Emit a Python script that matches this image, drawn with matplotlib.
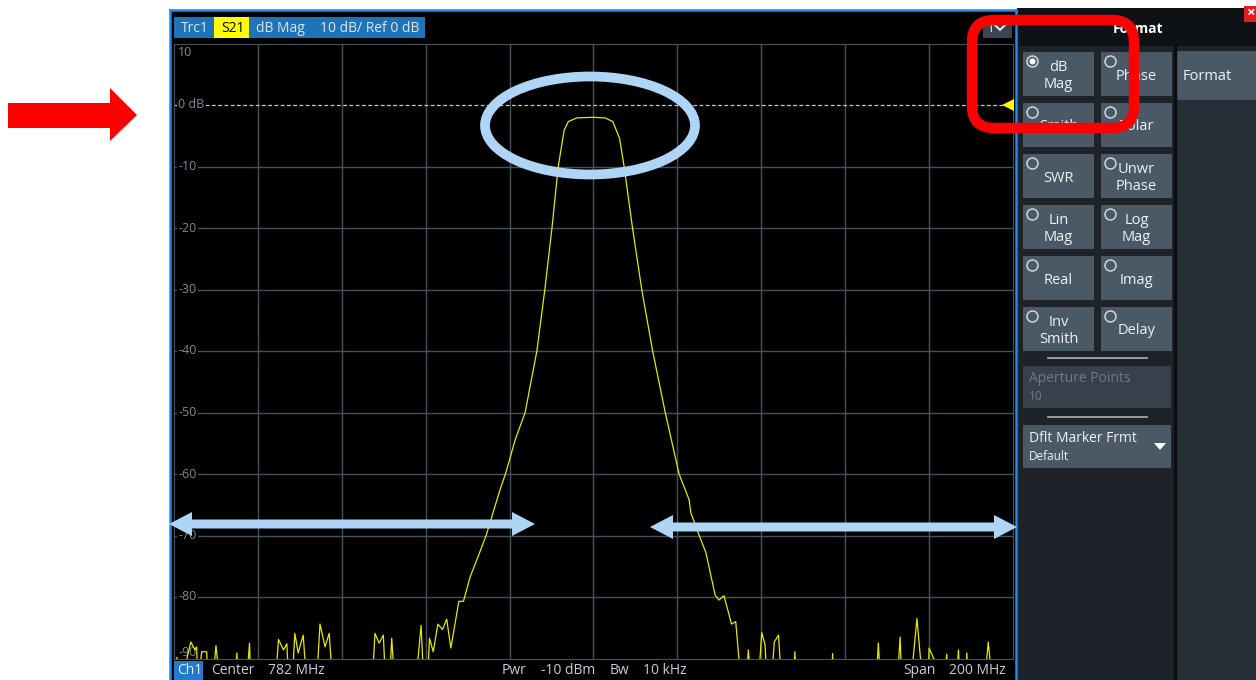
import matplotlib
matplotlib.use("Agg")
import matplotlib.pyplot as plt
from matplotlib.patches import Rectangle, Ellipse, Polygon, Circle, FancyBboxPatch
from matplotlib.transforms import blended_transform_factory

plt.rcParams['font.family'] = ['Open Sans', 'DejaVu Sans']

# Sweep settings
center_mhz = 782
span_mhz = 200
ref_db = 0
div_db = 10

# S21 trace (values below -90 dB are off screen)
noise_left_f = [682.0, 682.7, 683.4, 686.0, 687.0, 687.4, 687.7, 688.6, 689.8, 690.1,
                691.1, 692.0, 693.1, 696.3, 697.0, 697.3, 699.2, 700.0, 700.4, 706.1,
                706.9, 708.1, 708.9, 709.4, 710.1, 710.8, 711.6, 712.8, 713.7, 715.9,
                716.8, 718.0, 719.0, 719.9, 729.2, 729.9, 730.9, 731.9, 732.5, 733.3,
                733.9, 734.7, 739.5, 740.9, 741.6, 742.3, 742.9, 743.8, 744.9, 746.0,
                747.0, 748.0]
noise_left_db = [-95, -89.8, -95, -87.3, -88.6, -88.1, -95, -88.9, -88.9, -95,
                 -95, -87.9, -95, -95, -89.1, -95, -95, -87.5, -95, -95,
                 -86.9, -88.6, -87.6, -95, -95, -85.9, -89.1, -86.2, -95, -95,
                 -84.4, -88.1, -85.9, -95, -95, -85.9, -87.5, -86.2, -95, -95,
                 -86.7, -95, -95, -84.6, -95, -95, -86.7, -88.9, -84.4, -85.3,
                 -83.6, -88.3]

filter_f = [749.9, 751.0, 752.6, 754.5, 756.4, 759.7, 761.1, 763.3, 765.7, 768.5,
            770.4, 772.1, 773.6, 775.0, 776.0, 778.0, 782.0, 784.8, 786.6, 788.2,
            789.3, 791.3, 793.5, 796.1, 799.1, 802.4, 804.8, 805.2, 807.2, 808.8,
            811.0, 811.9, 813.1, 814.9, 815.9]
filter_db = [-80.7, -80.7, -76.7, -73.4, -70.0, -62.6, -59.8, -54.5, -50.0, -40.0,
             -30.0, -20.0, -10.0, -4.1, -2.7, -2.1, -2.0, -2.1, -2.7, -5.4,
             -10.0, -20.0, -30.0, -40.0, -50.0, -60.0, -64.2, -66.3, -70.0, -72.8,
             -79.7, -80.5, -79.8, -84.4, -84.0]

noise_right_f = [817.3, 818.4, 818.9, 819.6, 821.2, 822.1, 822.9, 823.4, 824.3, 825.1,
                 826.1, 826.9, 829.6, 830.0, 830.5, 838.6, 839.0, 839.3, 849.3, 849.9,
                 850.5, 854.3, 855.1, 855.5, 857.5, 859.1, 860.6, 861.7, 862.0, 863.4,
                 865.5, 866.2, 866.5, 868.4, 869.0, 869.4, 870.6, 871.0, 871.3, 875.1,
                 876.1, 877.2, 882.0]
noise_right_db = [-95, -95, -88.6, -95, -95, -85.8, -87.8, -95, -95, -87.3,
                  -86.2, -95, -95, -88.9, -95, -95, -89.2, -95, -95, -87.5,
                  -95, -95, -86.5, -95, -95, -83.5, -95, -95, -88.3, -90.5,
                  -95, -89.3, -95, -95, -88.6, -95, -95, -89.1, -95, -95,
                  -87.3, -95, -95]

y_ticks = [0, -10, -20, -30, -40, -50, -60, -70, -80]
y_labels = ["0 dB", "-10", "-20", "-30", "-40", "-50", "-60", "-70", "-80"]

header_items = ["Trc1", "S21", "dB Mag", "10 dB/ Ref 0 dB"]
status_items = ["Center", "782 MHz", "Pwr", "-10 dBm", "Bw", "10 kHz", "Span", "200 MHz"]
format_buttons = ["dB\nMag", "Phase", "Smith", "Polar", "SWR", "Unwr\nPhase",
                  "Lin\nMag", "Log\nMag", "Real", "Imag", "Inv\nSmith", "Delay"]

freqs = noise_left_f + filter_f + noise_right_f
s21 = noise_left_db + filter_db + noise_right_db

W, H = 1256, 680
fig = plt.figure(figsize=(W / 100, H / 100), dpi=100)
fig.patch.set_facecolor("white")


def rect(ax, x0, y0, x1, y1, color, **kw):
    ax.add_patch(Rectangle((x0, y0), x1 - x0, y1 - y0, facecolor=color,
                           edgecolor="none", **kw))


# background UI layer in pixel coordinates
ui = fig.add_axes([0, 0, 1, 1], zorder=0)
ui.set_xlim(0, W)
ui.set_ylim(H, 0)
ui.axis("off")

rect(ui, 170, 10, 1016, 680, "black")
blue = "#1e88f0"
ui.plot([170, 170], [10, 680], color=blue, lw=1.8)
ui.plot([1016, 1016], [10, 680], color=blue, lw=1.8)
ui.plot([170, 1016], [10, 10], color=blue, lw=1.8)

# trace header
rect(ui, 174, 17, 425, 38, "#1f73b8")
rect(ui, 214, 17, 249, 38, "#ffff00")
for x, s in zip([181, 221, 256, 320], header_items):
    ui.text(x, 28, s, color="black" if s == "S21" else "#dde6ef",
            fontsize=10, va="center", ha="left")

# channel selector top right
rect(ui, 983, 18, 1012, 38, "#3a4550")
ui.text(987, 28, "1", color="#dde6ef", fontsize=10, va="center")
ui.plot([995, 1000, 1005], [25, 30, 25], color="#dde6ef", lw=1.5)

# status bar
rect(ui, 174, 661, 203, 680, "#1f7ad0")
ui.text(177, 671, "Ch1", color="#e8eef4", fontsize=10, va="center")
for x, s in zip([211, 268, 502, 541, 610, 643, 903, 949], status_items):
    ui.text(x, 671, s, color="#c5ced6", fontsize=10, va="center")

# Format panel
rect(ui, 1017, 8, 1256, 680, "#1d2329")
rect(ui, 1017, 8, 1256, 46, "#0e1216")
ui.text(1138, 29, "Format", color="white", fontsize=10, fontweight="bold",
        ha="center", va="center")
rect(ui, 1175, 100, 1256, 680, "#262d34")
ui.plot([1174.5, 1174.5], [46, 680], color="#0b0e11", lw=2.5)
rect(ui, 1177, 51, 1256, 100, "#4b5967")
ui.text(1183, 76, "Format", color="#eef2f5", fontsize=10.5, va="center")
rect(ui, 1244, 6, 1256, 22, "#e02020")
ui.text(1250, 13, "×", color="white", fontsize=11, fontweight="bold",
        ha="center", va="center")

row_tops = [52, 103, 154, 205, 256, 307]
col_lefts = [1023, 1101]
for i, label in enumerate(format_buttons):
    top = row_tops[i // 2]
    left = col_lefts[i % 2]
    rect(ui, left, top, left + 71, top + 44, "#4b5967")
    ui.add_patch(Circle((left + 9.5, top + 9.5), 5.5, facecolor="none",
                        edgecolor="#cfd6dd", lw=1.1))
    if i == 0:
        ui.add_patch(Circle((left + 9.5, top + 9.5), 3, facecolor="white",
                            edgecolor="none"))
    ui.text(left + 35.5, top + 24, label, color="#eef2f5", fontsize=10.5,
            ha="center", va="center", linespacing=1.2)

ui.plot([1048, 1147], [357.5, 357.5], color="#aab4be", lw=1.2)
rect(ui, 1023, 366, 1171, 408, "#36414c")
ui.text(1029, 378, "Aperture Points", color="#6e7b87", fontsize=10, va="center")
ui.text(1029, 397, "10", color="#6e7b87", fontsize=8.5, va="center")
ui.plot([1048, 1147], [417, 417], color="#aab4be", lw=1.2)
rect(ui, 1023, 425, 1171, 468, "#4b5967")
ui.text(1029, 438, "Dflt Marker Frmt", color="#eef2f5", fontsize=10, va="center")
ui.text(1029, 457, "Default", color="#eef2f5", fontsize=8.5, va="center")
ui.add_patch(Polygon([(1154, 443), (1166, 443), (1160, 450)], closed=True,
                     facecolor="white", edgecolor="none"))

# measurement diagram
ax = fig.add_axes([174 / W, (H - 658.5) / H, (1013 - 174) / W, (658.5 - 43.5) / H],
                  zorder=1)
ax.set_facecolor("black")
f_start = center_mhz - span_mhz / 2
f_stop = center_mhz + span_mhz / 2
ax.set_xlim(f_start, f_stop)
ax.set_ylim(ref_db - 9 * div_db, ref_db + div_db)
grid_c = "#46525c"
for k in range(1, 10):
    ax.axvline(f_start + k * span_mhz / 10, color=grid_c, lw=1)
for v in y_ticks[1:]:
    ax.axhline(v, color=grid_c, lw=1)
for sp in ax.spines.values():
    sp.set_color(grid_c)
ax.set_xticks([])
ax.set_yticks([])

ax.axhline(ref_db, color="#c8c8c8", lw=0.9, ls=(0, (3, 2)))
ax.plot([f_stop - 1.3], [ref_db], marker="<", ms=9, color="#ffff00",
        markeredgewidth=0, clip_on=False, zorder=4)
ax.plot(freqs, s21, color="#e8e800", lw=0.9, zorder=3)

tr = blended_transform_factory(ax.transAxes, ax.transData)
ax.text(0.005, ref_db + div_db - 1.4, "10", transform=tr, color="#7d8a96",
        fontsize=9, va="center", ha="left")
for v, s in zip(y_ticks, y_labels):
    ax.text(0.005, v, s, transform=tr, color="#7d8a96", fontsize=9,
            va="center", ha="left", zorder=5,
            bbox=dict(facecolor="black", edgecolor="none", pad=1.2))
# bottom label sits just above the edge and is cut by the status bar
ax.text(0.005, ref_db - 9 * div_db + 1.0, "-90", transform=tr, color="#7d8a96",
        fontsize=9, va="center", ha="left", zorder=2, clip_on=True)

# annotation layer
ann = fig.add_axes([0, 0, 1, 1], zorder=5)
ann.set_xlim(0, W)
ann.set_ylim(H, 0)
ann.patch.set_alpha(0)
ann.axis("off")

light_blue = "#aed5f6"
ann.add_patch(Ellipse((590, 125.5), 210, 98, facecolor="none",
                      edgecolor=light_blue, lw=7))
ann.add_patch(FancyBboxPatch((972, 20), 162, 108,
                             boxstyle="round,pad=0,rounding_size=22",
                             facecolor="none", edgecolor="#ff0000", lw=7.5))


def double_arrow(x0, x1, y, shaft=9, head_len=23, head_w=24):
    h, w = shaft / 2, head_w / 2
    pts = [(x0, y), (x0 + head_len, y - w), (x0 + head_len, y - h),
           (x1 - head_len, y - h), (x1 - head_len, y - w), (x1, y),
           (x1 - head_len, y + w), (x1 - head_len, y + h),
           (x0 + head_len, y + h), (x0 + head_len, y + w)]
    ann.add_patch(Polygon(pts, closed=True, facecolor=light_blue, edgecolor="none"))


double_arrow(169, 535, 524)
double_arrow(650, 1017, 527)

ann.add_patch(Polygon([(8, 103), (110, 103), (110, 88), (137, 115), (110, 141),
                       (110, 128), (8, 128)], closed=True,
                      facecolor="#ff0000", edgecolor="none"))

fig.savefig("out.png", dpi=100)
